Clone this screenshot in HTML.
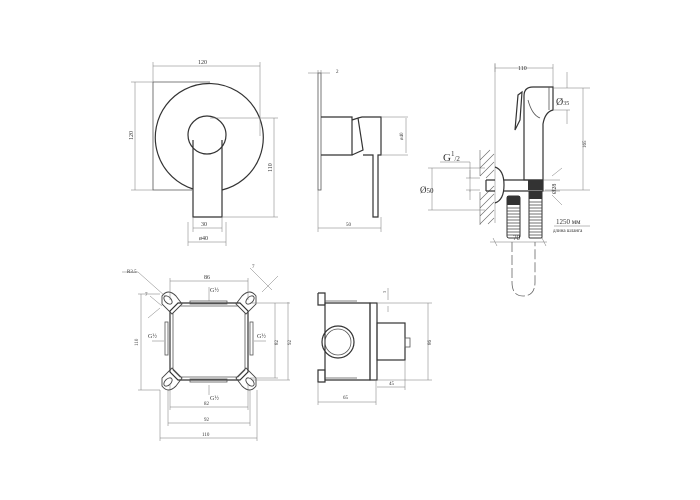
<!DOCTYPE html>
<html><head><meta charset="utf-8"><style>
html,body{margin:0;padding:0;background:#fff;}
svg{display:block;}
text{font-family:"Liberation Serif",serif;fill:#333;}
.s{fill:none;stroke:#555;stroke-width:0.8;}
.t{fill:none;stroke:#777;stroke-width:0.5;}
.k{fill:none;stroke:#333;stroke-width:1.2;}
</style></head><body>
<svg width="700" height="500" viewBox="0 0 700 500" xmlns="http://www.w3.org/2000/svg">
<!-- FRONT VIEW -->
<g>
<path class="s" d="M153 82 H210 M153 82 V190 H192"/>
<path class="k" d="M193 189 A54 54 0 1 1 222 190"/>
<circle class="k" cx="207" cy="135" r="19"/>
<path class="k" d="M193 140 V217 H222 V140"/>
<path class="t" d="M153 82 V62 M260 136 V62 M153 66 H260"/>
<text x="198" y="64" font-size="6">120</text>
<path class="t" d="M131 82 H153 M131 190 H153 M135 82 V190"/>
<text x="133" y="140" font-size="6" transform="rotate(-90 133 140)">120</text>
<path class="t" d="M210 118 H278 M222 217 H278 M274 118 V217"/>
<text x="272" y="172" font-size="6" transform="rotate(-90 272 172)">110</text>
<path class="t" d="M193 217 V232 M222 217 V232 M193 228 H222 M188 222 V246 M226 222 V246 M188 242 H226"/>
<text x="201" y="226" font-size="6">30</text>
<text x="199" y="240" font-size="6">ø40</text>
</g>
<!-- SIDE VIEW -->
<g>
<rect class="s" x="318" y="73" width="3" height="117"/>
<path class="k" d="M321 117 H352 V155 H321"/>
<path class="k" d="M352 120 L358 118 L363 150 L352 155 M358 118 L362 117 H381 V155 H378 V217 H373 V155 H363"/>
<path class="t" d="M308 73 H318 M321 73 H330 M318 70 V80 M321 70 V80"/>
<text x="336" y="73" font-size="5">2</text>
<path class="t" d="M318 190 V232 M381 217 V232 M318 228 H381"/>
<text x="346" y="226" font-size="5">50</text>
<path class="t" d="M381 117 H408 M381 155 H408 M406 118 V153"/>
<text x="403" y="140" font-size="5" transform="rotate(-90 403 140)">ø40</text>
</g>
<!-- HAND SHOWER -->
<g>
<path class="t" d="M495 63 V223"/>
<path class="t" d="M495 64 V72 M553 64 V88 M495 68 H553"/>
<text x="518" y="70" font-size="6" font-family="Liberation Sans">110</text>
<path class="k" d="M524 180 V96 Q524 87 533 87 H553 V110 Q545 112 543 124 V180 Z"/>
<path class="s" d="M549 87 V110 M528 100 Q532 115 540 118"/>
<path class="k" d="M522 92 L518 95 L515 130 L520 120 Z"/>
<path class="t" d="M553 88 H590 M567 72 V88 M567 110 V124 M553 110 H570 M583 88 V190 M545 190 H590"/>
<text x="556" y="105" font-size="10" font-family="Liberation Sans">Ø<tspan font-size="6">35</tspan></text>
<text x="586" y="148" font-size="5" font-family="Liberation Sans" transform="rotate(-90 586 148)">165</text>
<!-- wall hatch -->
<g stroke="#666" stroke-width="0.6">
<path d="M480 150 V176 M480 192 V225 M480 160 L490 150 M480 168 L494 154 M480 176 L494 162 M486 178 L494 170 M480 200 L494 186 M480 208 L494 194 M480 216 L494 202 M480 224 L494 210 M488 224 L494 218"/>
</g>
<path class="k" d="M495 167 Q504 170 504 185 Q504 200 495 203 M504 180 H543 V191 H504 M486 180 H495 M486 191 H495 M486 180 V191"/>
<rect x="528" y="180" width="15" height="10" fill="#333"/>
<g fill="none" stroke="#333" stroke-width="1">
<rect x="507" y="196" width="13" height="42" rx="2"/>
<rect x="529" y="191" width="13" height="47" rx="1"/>
</g>
<rect x="507" y="196" width="13" height="9" fill="#333"/>
<rect x="529" y="191" width="13" height="8" fill="#333"/>
<g stroke="#444" stroke-width="0.7">
<path d="M507 208 H520 M507 211 H520 M507 214 H520 M507 217 H520 M507 220 H520 M507 223 H520 M507 226 H520 M507 229 H520 M507 232 H520 M507 235 H520"/>
<path d="M529 202 H542 M529 205 H542 M529 208 H542 M529 211 H542 M529 214 H542 M529 217 H542 M529 220 H542 M529 223 H542 M529 226 H542 M529 229 H542 M529 232 H542 M529 235 H542"/>
</g>
<text x="443" y="161" font-size="11" font-family="Liberation Sans">G<tspan font-size="7" dy="-5">1</tspan><tspan font-size="7" dy="5">/2</tspan></text>
<path class="t" d="M440 162 H470 V192 M466 178 H480 M466 190 H480 M470 178 V170 M470 190 V200"/>
<path class="t" d="M428 168 H485 M428 210 H485 M432 168 V210"/>
<text x="420" y="193" font-size="9" font-family="Liberation Sans">Ø<tspan font-size="7">50</tspan></text>
<path class="t" d="M543 180 H560 M543 191 H560 M552 176 L562 168 M552 195 L562 205"/>
<text x="556" y="194" font-size="6" font-family="Liberation Sans" transform="rotate(-90 556 194)">Ø28</text>
<text x="556" y="224" font-size="7" font-family="Liberation Sans">1250 мм</text>
<path class="t" d="M554 226 H590"/>
<text x="553" y="232" font-size="5" font-family="Liberation Sans">длина шланга</text>
<path class="t" d="M490 242 H547 M493 238 L497 246 M542 238 L546 246"/>
<text x="513" y="240" font-size="7" font-family="Liberation Sans">70</text>
<path d="M512 242 V282 Q512 296 523 296 Q535 296 535 282 V242" fill="none" stroke="#666" stroke-width="0.8" stroke-dasharray="10 3"/>
</g>
<!-- BOX TOP VIEW -->
<g>
<path class="k" d="M178 303 H240 L248 311 V372 L240 380 H178 L170 372 V311 Z"/>
<path class="s" d="M180 306 H238 L245 313 V370 L238 377 H180 L173 370 V313 Z"/>
<g fill="none" stroke="#444" stroke-width="0.9">
<path d="M162 296 Q168 288 176 296 L182 304 L172 314 L162 304 Z"/>
<path d="M256 296 Q250 288 242 296 L236 304 L246 314 L256 304 Z"/>
<path d="M162 386 Q168 394 176 386 L182 378 L172 368 L162 378 Z"/>
<path d="M256 386 Q250 394 242 386 L236 378 L246 368 L256 378 Z"/>
<ellipse cx="168" cy="300" rx="3" ry="5" transform="rotate(-45 168 300)"/>
<ellipse cx="250" cy="300" rx="3" ry="5" transform="rotate(45 250 300)"/>
<ellipse cx="168" cy="382" rx="3" ry="5" transform="rotate(45 168 382)"/>
<ellipse cx="250" cy="382" rx="3" ry="5" transform="rotate(-45 250 382)"/>
</g>
<g class="s"><rect x="190" y="301" width="37" height="3"/><rect x="190" y="379" width="37" height="3"/><rect x="165" y="322" width="3" height="33"/><rect x="250" y="322" width="3" height="33"/></g>
<path class="t" d="M170 278 V300 M248 278 V300 M170 281 H248 M209 287 V301 M209 385 V395 M152 341 H164 M254 341 H266"/>
<text x="204" y="279" font-size="6">86</text>
<text x="210" y="292" font-size="6">G½</text>
<text x="210" y="400" font-size="6">G½</text>
<text x="148" y="338" font-size="6">G½</text>
<text x="257" y="338" font-size="6">G½</text>
<path class="t" d="M138 294 H160 M138 390 H160 M141 294 V390"/>
<text x="138" y="346" font-size="5" transform="rotate(-90 138 346)">110</text>
<path class="t" d="M250 303 H290 M250 378 H278 M275 303 V378 M288 302 V380 M252 380 H290"/>
<text x="278" y="345" font-size="5" transform="rotate(-90 278 345)">82</text>
<text x="291" y="345" font-size="5" transform="rotate(-90 291 345)">92</text>
<path class="t" d="M170 384 V410 M248 384 V410 M170 407 H248 M168 390 V426 M250 390 V426 M168 423 H250 M160 390 V441 M257 390 V441 M160 438 H257"/>
<text x="204" y="405" font-size="5">82</text>
<text x="204" y="421" font-size="5">92</text>
<text x="202" y="436" font-size="5">110</text>
<path class="t" d="M122 272 H138 L165 296 M250 268 L272 290 M262 292 L278 276 M150 296 L162 306 M148 318 L160 308"/>
<text x="127" y="273" font-size="5">R3.5</text>
<text x="252" y="268" font-size="5">7</text>
<text x="145" y="296" font-size="5">7</text>
</g>
<!-- BOX SIDE VIEW -->
<g>
<path class="k" d="M318 293 H325 V305 M318 293 V305 H325 M318 370 H325 V382 H318 Z"/>
<path class="k" d="M325 303 H370 V380 H325 Z"/>
<path class="s" d="M325 301 H357 M325 378 H357"/>
<circle class="k" cx="338" cy="342" r="16"/>
<circle class="s" cx="338" cy="342" r="13"/>
<rect class="k" x="370" y="303" width="7" height="77"/>
<rect class="k" x="377" y="323" width="28" height="37"/>
<rect class="s" x="405" y="338" width="5" height="9"/>
<path class="t" d="M377 303 H432 M377 380 H432 M428 303 V380 M388 288 V300 M388 306 V312"/>
<text x="431" y="345" font-size="5" transform="rotate(-90 431 345)">86</text>
<text x="386" y="293" font-size="4" transform="rotate(-90 386 293)">3</text>
<path class="t" d="M318 382 V405 M376 380 V405 M318 402 H376 M405 360 V390 M377 387 H405"/>
<text x="343" y="399" font-size="5">65</text>
<text x="389" y="385" font-size="5">45</text>
</g>
</svg>
</body></html>
